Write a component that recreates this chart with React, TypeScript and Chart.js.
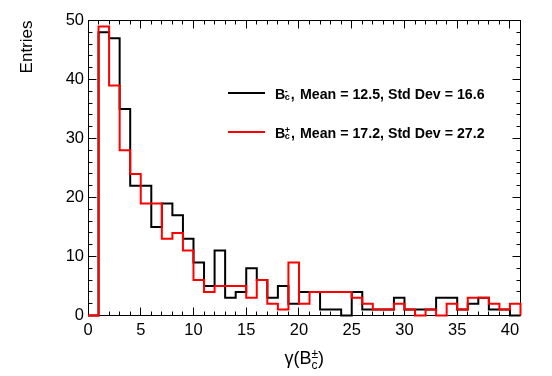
import React, { useEffect, useRef } from "react";
import { Chart, registerables } from "chart.js";

Chart.register(...registerables);

// Histogram binning (bins of width 1 from 0 to 41)
const binLow = 0;
const binHigh = 41;
const binWidth = 1;

// Entries per bin, B_c^- (black) and B_c^+ (red)
const bcMinusCounts = [
  0, 48, 47, 35, 22, 22, 15, 19, 17, 13,
  9, 5, 11, 3, 4, 8, 6, 3, 5, 2,
  4, 4, 1, 1, 0, 4, 1, 1, 1, 3,
  1, 1, 1, 3, 3, 1, 2, 3, 1, 1,
  0,
];
const bcPlusCounts = [
  0, 49, 39, 28, 24, 19, 19, 13, 14, 11,
  6, 4, 5, 5, 5, 3, 6, 2, 1, 9,
  2, 4, 4, 4, 4, 3, 2, 1, 1, 2,
  1, 0, 1, 0, 2, 1, 3, 3, 2, 1,
  2,
];

// Axes
const xTickValues = [0, 5, 10, 15, 20, 25, 30, 35, 40];
const yTickValues = [0, 10, 20, 30, 40, 50];
const xMinorStep = 1;
const yMinorStep = 2;
const yMin = 0;
const yMax = 50;

// Legend
const seriesCharges = ["-", "+"];
const seriesMeans = [12.5, 17.2];
const seriesStdDevs = [16.6, 27.2];
const seriesColors = ["#000000", "#ff0000"];

// Titles
const yTitle = "Entries";
const xTitleMain = "γ(B";
const xTitleSup = "±";
const xTitleSub = "c";
const xTitleEnd = ")";

const FONT = '"Liberation Sans", Arial, Helvetica, sans-serif';

function histPoints(counts: number[]) {
  const pts = counts.map((c, i) => ({ x: binLow + i * binWidth, y: c }));
  pts.push({ x: binHigh, y: counts[counts.length - 1] });
  pts.push({ x: binHigh, y: 0 });
  return pts;
}

const framePlugin = {
  id: "rootFrame",
  beforeDatasetsDraw(chart: any) {
    const { ctx, chartArea: a } = chart;
    const xs = chart.scales.x;
    const ys = chart.scales.y;
    const L = Math.floor(a.left) + 0.5;
    const R = Math.floor(a.right) + 0.5;
    const T = Math.floor(a.top) + 0.5;
    const B = Math.floor(a.bottom) + 0.5;
    ctx.save();
    ctx.strokeStyle = "#000";
    ctx.lineWidth = 1;
    ctx.beginPath();
    for (let v = binLow + xMinorStep; v < binHigh - 1e-9; v += xMinorStep) {
      const px = Math.floor(xs.getPixelForValue(v)) + 0.5;
      const len = xTickValues.includes(v) ? 8 : 4;
      ctx.moveTo(px, B);
      ctx.lineTo(px, B - len);
      ctx.moveTo(px, T);
      ctx.lineTo(px, T + len);
    }
    for (let v = yMin + yMinorStep; v < yMax - 1e-9; v += yMinorStep) {
      const py = Math.floor(ys.getPixelForValue(v)) + 0.5;
      const len = yTickValues.includes(v) ? 8 : 4;
      ctx.moveTo(L, py);
      ctx.lineTo(L + len, py);
      ctx.moveTo(R, py);
      ctx.lineTo(R - len, py);
    }
    ctx.stroke();
    ctx.strokeRect(L, T, R - L, B - T);
    ctx.restore();
  },
};

const legendPlugin = {
  id: "rootLegend",
  afterDatasetsDraw(chart: any) {
    const ctx = chart.ctx;
    const rows = [93, 132];
    ctx.save();
    for (let i = 0; i < rows.length; i++) {
      const y = rows[i];
      ctx.strokeStyle = seriesColors[i];
      ctx.lineWidth = 2;
      ctx.beginPath();
      ctx.moveTo(228, y);
      ctx.lineTo(265, y);
      ctx.stroke();

      ctx.fillStyle = "#000";
      ctx.textAlign = "left";
      ctx.textBaseline = "alphabetic";
      ctx.font = `bold 14.2px ${FONT}`;
      ctx.fillText("B", 275, y + 5.5);
      const bw = ctx.measureText("B").width;
      ctx.font = `bold 9px ${FONT}`;
      const sx = 275 + bw - 0.5;
      ctx.fillText(seriesCharges[i], sx, y + 0.5);
      ctx.fillText("c", sx, y + 6.5);
      const sw = Math.max(
        ctx.measureText(seriesCharges[i]).width,
        ctx.measureText("c").width
      );
      ctx.font = `bold 14.2px ${FONT}`;
      ctx.fillText(",", sx + sw + 1, y + 5.5);
      ctx.fillText(
        `Mean = ${seriesMeans[i].toFixed(1)}, Std Dev = ${seriesStdDevs[i].toFixed(1)}`,
        300,
        y + 5.5
      );
    }
    ctx.restore();
  },
};

const xTitlePlugin = {
  id: "rootXTitle",
  afterDraw(chart: any) {
    const { ctx, chartArea: a } = chart;
    ctx.save();
    ctx.fillStyle = "#000";
    ctx.textAlign = "left";
    ctx.textBaseline = "alphabetic";
    ctx.font = `18px ${FONT}`;
    const w1 = ctx.measureText(xTitleMain).width;
    const w3 = ctx.measureText(xTitleEnd).width;
    ctx.font = `12px ${FONT}`;
    const w2 = Math.max(
      ctx.measureText(xTitleSup).width,
      ctx.measureText(xTitleSub).width
    );
    const cx = (a.left + a.right) / 2;
    const x0 = cx - (w1 + w2 + w3) / 2;
    const base = a.bottom + 48.5;
    ctx.font = `18px ${FONT}`;
    ctx.fillText(xTitleMain, x0, base);
    ctx.font = `12px ${FONT}`;
    ctx.fillText(xTitleSup, x0 + w1, base - 6);
    ctx.fillText(xTitleSub, x0 + w1, base + 4.5);
    ctx.font = `18px ${FONT}`;
    ctx.fillText(xTitleEnd, x0 + w1 + w2, base);
    ctx.restore();
  },
};

export default function App() {
  const canvasRef = useRef<HTMLCanvasElement | null>(null);

  useEffect(() => {
    document.body.style.margin = "0";
    const canvas = canvasRef.current;
    if (!canvas) return;
    const tickFont = { family: FONT, size: 16.5 };
    const chart = new Chart(canvas, {
      type: "line",
      data: {
        datasets: [
          {
            label: "B_c^+",
            data: histPoints(bcPlusCounts),
            borderColor: seriesColors[1],
            borderWidth: 2,
            pointRadius: 0,
            stepped: "before",
            fill: false,
            clip: false,
            borderJoinStyle: "miter",
          } as any,
          {
            label: "B_c^-",
            data: histPoints(bcMinusCounts),
            borderColor: seriesColors[0],
            borderWidth: 2,
            pointRadius: 0,
            stepped: "before",
            fill: false,
            clip: false,
            borderJoinStyle: "miter",
          } as any,
        ],
      },
      options: {
        animation: false,
        responsive: false,
        events: [],
        layout: { padding: { top: 20.5, right: 31.5, left: 0, bottom: 0 } },
        plugins: {
          legend: { display: false },
          tooltip: { enabled: false },
        },
        scales: {
          x: {
            type: "linear",
            min: binLow,
            max: binHigh,
            grid: { display: false, drawTicks: false },
            border: { display: false },
            ticks: {
              font: tickFont,
              color: "#000",
              padding: 5,
              maxRotation: 0,
              autoSkip: false,
              callback: (v: any) => String(v),
            },
            afterBuildTicks: (s: any) => {
              s.ticks = xTickValues.map((v) => ({ value: v }));
            },
            afterFit: (s: any) => {
              s.height = 60.5;
            },
          },
          y: {
            type: "linear",
            min: yMin,
            max: yMax,
            grid: { display: false, drawTicks: false },
            border: { display: false },
            ticks: {
              font: tickFont,
              color: "#000",
              padding: 4,
              autoSkip: false,
              callback: (v: any) => String(v),
            },
            afterBuildTicks: (s: any) => {
              s.ticks = yTickValues.map((v) => ({ value: v }));
            },
            title: {
              display: true,
              text: yTitle,
              align: "end",
              color: "#000",
              font: { family: FONT, size: 17 },
              padding: { top: 17.2, bottom: 0 },
            },
            afterFit: (s: any) => {
              s.width = 88;
            },
          },
        },
      } as any,
      plugins: [framePlugin, legendPlugin, xTitlePlugin],
    });
    return () => chart.destroy();
  }, []);

  return (
    <div style={{ width: 552, height: 376 }}>
      <canvas ref={canvasRef} width={552} height={376} />
    </div>
  );
}
